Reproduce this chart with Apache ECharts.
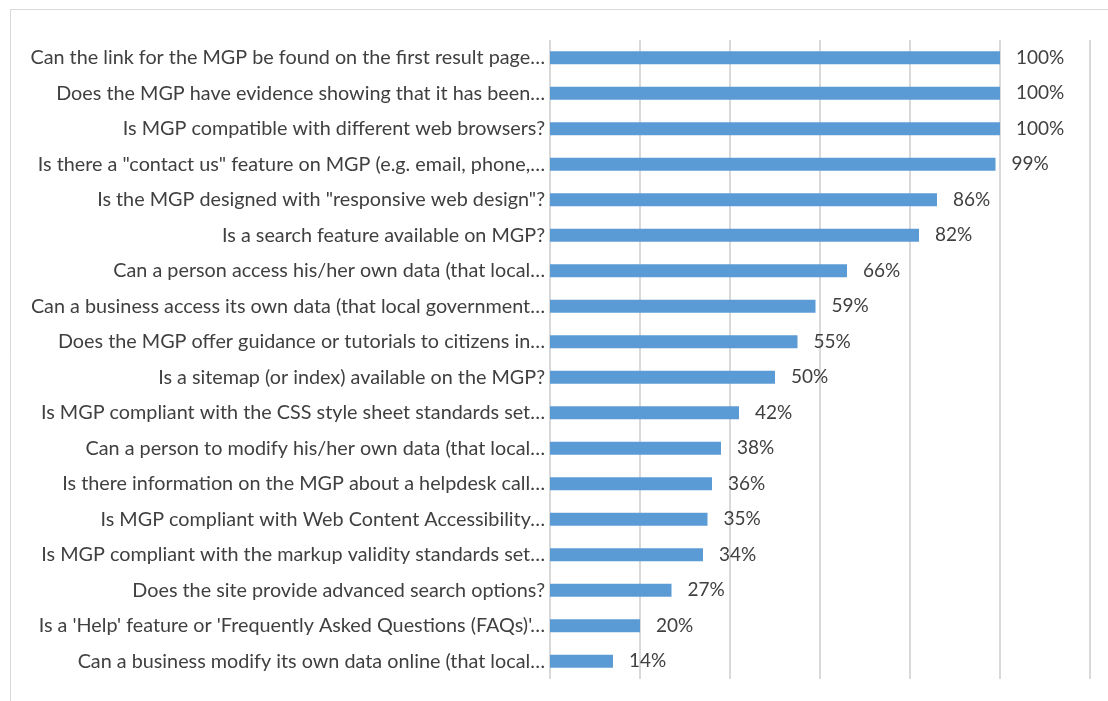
<!DOCTYPE html>
<html>
<head>
<meta charset="utf-8">
<script src="https://cdn.jsdelivr.net/npm/echarts@6/dist/echarts.min.js"></script>
<style>
  html, body { margin: 0; padding: 0; background: #ffffff; }
  #chart { width: 1108px; height: 701px; }
</style>
</head>
<body>
<div id="chart"></div>
<script>
// Survey questions about municipal government portals (MGP), top to bottom
const questions = [
  'Can the link for the MGP be found on the first result page…',
  'Does the MGP have evidence showing that it has been…',
  'Is MGP compatible with different web browsers?',
  'Is there a "contact us" feature on MGP (e.g. email, phone,…',
  'Is the MGP designed with "responsive web design"?',
  'Is a search feature available on MGP?',
  'Can a person access his/her own data (that local…',
  'Can a business access its own data (that local government…',
  'Does the MGP offer guidance or tutorials to citizens in…',
  'Is a sitemap (or index) available on the MGP?',
  'Is MGP compliant with the CSS style sheet standards set…',
  'Can a person to modify his/her own data (that local…',
  'Is there information on the MGP about a helpdesk call…',
  'Is MGP compliant with Web Content Accessibility…',
  'Is MGP compliant with the markup validity standards set…',
  'Does the site provide advanced search options?',
  'Is a \'Help\' feature or \'Frequently Asked Questions (FAQs)\'…',
  'Can a business modify its own data online (that local…'
];

// Share of portals answering "yes", in percent
const yesShare = [100, 100, 100, 99, 86, 82, 66, 59, 55, 50, 42, 38, 36, 35, 34, 27, 20, 14];

const chart = echarts.init(document.getElementById('chart'));

chart.setOption({
  animation: false,
  textStyle: { fontFamily: 'Lato, sans-serif' },
  graphic: [{
    type: 'rect',
    shape: { x: 10.5, y: 9.5, width: 1200, height: 800 },
    style: { fill: 'none', stroke: '#d9d9d9', lineWidth: 1 },
    silent: true
  }],
  grid: { left: 550, right: 18, top: 40, bottom: 22 },
  xAxis: {
    type: 'value',
    min: 0,
    max: 120,
    interval: 20,
    axisLabel: { show: false },
    axisLine: { show: false },
    axisTick: { show: false },
    splitLine: { show: true, lineStyle: { color: '#d9d9d9', width: 2 } }
  },
  yAxis: {
    type: 'category',
    inverse: true,
    data: questions,
    axisLine: { show: false },
    axisTick: { show: false },
    axisLabel: { color: '#404040', fontSize: 19.8, margin: 5 }
  },
  series: [{
    type: 'bar',
    data: yesShare,
    barWidth: 13,
    itemStyle: { color: '#5b9bd5' },
    label: {
      show: true,
      position: 'right',
      distance: 16,
      color: '#404040',
      fontSize: 19,
      formatter: p => p.value + '%'
    }
  }]
});
</script>
</body>
</html>
